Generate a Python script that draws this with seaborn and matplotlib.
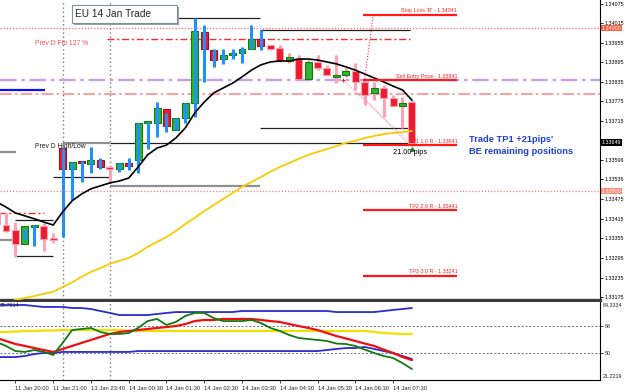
import numpy as np
import seaborn as sns
import matplotlib.pyplot as plt
from matplotlib.patches import Rectangle

# ---------------------------------------------------------------
# EURUSD M15 bars (bar index -1 .. 43), prices
# ---------------------------------------------------------------
bars = list(range(-1, 44))

body_open = [1.33433, 1.33396, 1.33381, 1.33338, 1.33390, 1.33393, 1.33356,
             1.33632, 1.33568, 1.33592, 1.33583, 1.33595, 1.33574, 1.33568, 1.33586, 1.33595,
             1.33709, 1.33709, 1.33752, 1.33687, 1.33724, 1.33770, 1.33988,
             1.33933, 1.33905, 1.33917, 1.33924, 1.33936, 1.33966, 1.33948,
             1.33939, 1.33899, 1.33908, 1.33844, 1.33896, 1.33878, 1.33850, 1.33856,
             1.33868, 1.33835, 1.33801, 1.33816, 1.33786, 1.33761, 1.33773]
body_close = [1.33399, 1.33378, 1.33338, 1.33393, 1.33393, 1.33353, 1.33350,
              1.33568, 1.33589, 1.33586, 1.33595, 1.33574, 1.33568, 1.33586, 1.33577, 1.33709,
              1.33712, 1.33755, 1.33700, 1.33724, 1.33770, 1.33991, 1.33936,
              1.33902, 1.33917, 1.33924, 1.33936, 1.33966, 1.33945, 1.33936,
              1.33899, 1.33911, 1.33844, 1.33896, 1.33878, 1.33856, 1.33856, 1.33868,
              1.33835, 1.33795, 1.33816, 1.33786, 1.33761, 1.33770, 1.33648]
bar_high = [1.33442, 1.33433, 1.33405, 1.33384, 1.33396, 1.33402, 1.33372,
            1.33632, 1.33589, 1.33592, 1.33635, 1.33602, 1.33577, 1.33586, 1.33602, 1.33709,
            1.33712, 1.33773, 1.33740, 1.33724, 1.33770, 1.34031, 1.34009,
            1.33936, 1.33936, 1.33936, 1.33942, 1.34009, 1.33994, 1.33948,
            1.33948, 1.33924, 1.33917, 1.33902, 1.33917, 1.33887, 1.33917, 1.33878,
            1.33893, 1.33841, 1.33835, 1.33825, 1.33795, 1.33789, 1.33779]
bar_low = [1.33393, 1.33375, 1.33298, 1.33350, 1.33332, 1.33316, 1.33341,
           1.33359, 1.33473, 1.33528, 1.33556, 1.33568, 1.33525, 1.33559, 1.33565, 1.33556,
           1.33629, 1.33666, 1.33681, 1.33687, 1.33709, 1.33727, 1.33835,
           1.33881, 1.33890, 1.33905, 1.33893, 1.33936, 1.33933, 1.33933,
           1.33896, 1.33893, 1.33841, 1.33841, 1.33871, 1.33853, 1.33831, 1.33850,
           1.33810, 1.33764, 1.33779, 1.33727, 1.33761, 1.33694, 1.33638]
bar_trend = ['dn', 'dn', 'dn', 'up', 'up', 'dn', 'dn',
             'up', 'up', 'up', 'up', 'up', 'dn', 'up', 'up', 'up',
             'up', 'up', 'up', 'up', 'up', 'up', 'up',
             'up', 'up', 'up', 'up', 'up', 'up', 'dn',
             'dn', 'dn', 'dn', 'dn', 'dn', 'dn', 'dn', 'dn',
             'dn', 'dn', 'dn', 'dn', 'dn', 'dn', 'dn']

ma_fast = [1.33467, 1.33451, 1.33433, 1.33424, 1.33415, 1.33405, 1.33396,
           1.33436, 1.33470, 1.33491, 1.33507, 1.33516, 1.33525, 1.33531, 1.33540, 1.33574,
           1.33611, 1.33632, 1.33641, 1.33663, 1.33694, 1.33740, 1.33773,
           1.33801, 1.33816, 1.33831, 1.33850, 1.33871, 1.33887, 1.33896,
           1.33899, 1.33899, 1.33905, 1.33905, 1.33902, 1.33896, 1.33890, 1.33881,
           1.33871, 1.33859, 1.33847, 1.33835, 1.33822, 1.33810, 1.33779]
ma_slow = [1.33151, 1.33157, 1.33166, 1.33172, 1.33178, 1.33185, 1.33191,
           1.33206, 1.33220, 1.33237, 1.33252, 1.33264, 1.33277, 1.33286, 1.33295, 1.33310,
           1.33329, 1.33344, 1.33359, 1.33378, 1.33399, 1.33418, 1.33439,
           1.33457, 1.33476, 1.33494, 1.33513, 1.33528, 1.33543, 1.33559,
           1.33574, 1.33586, 1.33599, 1.33611, 1.33620, 1.33629, 1.33638, 1.33648,
           1.33654, 1.33663, 1.33669, 1.33675, 1.33678, 1.33681, 1.33684]

# lower indicator window
ind_green = [57.3, 54.7, 51.3, 50.7, 52.0, 50.7, 48.7,
             56.7, 65.3, 66.0, 66.7, 64.0, 62.7, 62.7, 63.3, 66.7,
             71.3, 72.7, 68.7, 70.7, 74.7, 76.7, 76.7,
             73.3, 71.3, 71.3, 71.3, 72.0, 70.0, 66.7,
             64.7, 62.0, 60.0, 59.3, 58.7, 58.0, 56.3, 56.0,
             54.7, 52.3, 50.0, 48.0, 46.7, 43.3, 39.3]
ind_red = [60.0, 58.0, 56.0, 54.7, 53.3, 52.0, 50.7,
           52.7, 54.7, 56.7, 58.7, 60.7, 62.7, 64.0, 64.7, 65.3,
           66.0, 66.7, 67.3, 68.0, 69.3, 71.3, 72.0,
           72.0, 72.7, 72.7, 72.7, 72.7, 72.0, 71.3,
           70.7, 69.3, 68.0, 66.7, 65.3, 63.3, 61.3, 59.7,
           58.0, 56.3, 54.7, 52.3, 50.0, 47.3, 45.3]
ind_yellow = [64.0, 64.0, 64.3, 64.7, 64.7, 65.0, 65.0,
              65.3, 65.3, 65.3, 65.3, 65.3, 65.3, 65.3, 64.7, 64.7,
              64.7, 64.7, 64.7, 64.7, 64.7, 64.7, 64.7,
              64.7, 64.7, 64.7, 64.7, 64.7, 64.7, 64.7,
              64.7, 64.7, 64.7, 64.7, 64.7, 64.7, 64.7, 64.7,
              64.7, 64.7, 64.0, 63.3, 63.0, 62.7, 62.7]
ind_upper = [82.0, 82.0, 82.0, 82.0, 81.3, 80.7, 80.7,
             80.7, 80.0, 80.0, 79.3, 78.0, 76.7, 75.3, 75.3, 75.3,
             75.3, 76.0, 76.7, 77.3, 77.3, 77.3, 77.3,
             77.3, 77.3, 77.3, 78.0, 78.0, 78.0, 78.0,
             78.0, 78.0, 78.0, 78.0, 78.0, 78.0, 77.3, 77.3,
             77.3, 77.3, 77.3, 78.0, 78.7, 79.3, 80.0]
ind_lower = [47.3, 47.3, 47.3, 48.0, 49.3, 50.0, 50.0,
             50.7, 50.7, 50.7, 50.7, 50.7, 50.7, 50.7, 50.7, 51.3,
             51.3, 51.3, 51.3, 51.3, 51.3, 51.3, 51.3,
             51.3, 51.3, 51.3, 51.3, 51.3, 51.3, 51.3,
             51.3, 51.3, 51.3, 51.3, 51.3, 52.0, 52.7, 53.3,
             53.3, 54.0, 52.7, 51.3, 50.0, 48.0, 46.0]

# horizontal levels
full_levels = [(1.34000, '#ff6a6a', (0, (1, 1.5)), 0.9),
               (1.33841, '#c59ef2', (0, (7, 2, 1.5, 2)), 1.7),
               (1.33798, '#ff8c8c', (0, (7, 2, 1.5, 2)), 1.2),
               (1.33500, '#ff7a7a', (0, (1, 1.5)), 0.9)]
short_levels = [(1.34031, 18.2, 26.9, '#202020', '-', 0.9),
                (1.33994, 26.9, 42.8, '#202020', '-', 0.9),
                (1.33694, 26.9, 42.8, '#202020', '-', 0.9),
                (1.33648, 11.0, 42.8, '#202020', '-', 0.9),
                (1.33648, 6.0, 11.0, '#909090', '-', 1.6),
                (1.33543, 5.0, 11.0, '#202020', '-', 0.9),
                (1.33516, 11.0, 26.9, '#909090', '-', 1.6),
                (1.33620, -0.7, 1.1, '#909090', '-', 1.6),
                (1.33411, 0.95, 5.0, '#202020', '-', 0.9),
                (1.33301, 0.95, 5.0, '#202020', '-', 0.9),
                (1.33350, -0.7, 0.75, '#909090', '-', 1.6),
                (1.33433, -0.7, 4.0, '#ff2a2a', (0, (5, 2, 1.5, 2)), 1.0),
                (1.33966, 10.7, 42.8, '#ff2a2a', (0, (5, 2, 1.5, 2)), 1.0),
                (1.33810, -0.7, 4.1, '#1010ee', '-', 1.6)]

trade_prices = [1.34041, 1.33841, 1.33641, 1.33441, 1.33241]
trade_labels = ["Stop Loss 'R' - 1.34041", "Sell Entry Price - 1.33841",
                "TP1 1.0 R - 1.33641", "TP2 2.0 R - 1.33441", "TP3 3.0 R - 1.33241"]

price_ticks = [1.34075, 1.34015, 1.33955, 1.33895, 1.33835, 1.33775, 1.33715,
               1.33596, 1.33536, 1.33475, 1.33415, 1.33355, 1.33295, 1.33235, 1.33175]
time_ticks = [1, 5, 9, 13, 17, 21, 25, 29, 33, 37, 41]
time_labels = ['11 Jan 20:00', '11 Jan 21:00', '13 Jan 23:40', '14 Jan 00:30',
               '14 Jan 01:30', '14 Jan 02:30', '14 Jan 03:30', '14 Jan 04:30',
               '14 Jan 05:30', '14 Jan 06:30', '14 Jan 07:30']
day_breaks = [6.0, 11.0]

# ---------------------------------------------------------------
sns.set_style("white")
plt.rcParams['font.family'] = ['Liberation Sans', 'DejaVu Sans']

W, H = 625, 392
fig = plt.figure(figsize=(W / 100, H / 100), dpi=100)


def box(x0, y0, x1, y1):
    return [x0 / W, 1 - y1 / H, (x1 - x0) / W, (y1 - y0) / H]


ax = fig.add_axes(box(0, 0, 600, 300))
ax2 = fig.add_axes(box(0, 302, 600, 380))
xlim = (-6 / 9.44, 594 / 9.44)
for a in (ax, ax2):
    a.set_xlim(*xlim)
    a.set_facecolor('white')
    for s in ('left', 'top'):
        a.spines[s].set_visible(False)
    a.spines['right'].set_color('black')
    a.spines['right'].set_linewidth(0.8)
ax.set_ylim(1.33166, 1.34086)
ax.spines['bottom'].set_color('#3c3c3c')
ax.spines['bottom'].set_linewidth(2.4)
ax2.spines['bottom'].set_color('black')
ax2.spines['bottom'].set_linewidth(0.8)
ax2.set_ylim(32, 84)

# period separators
for d in day_breaks:
    for a in (ax, ax2):
        a.axvline(d, color='#7a7a7a', lw=1.0, ls=(0, (1, 2)), zorder=1)

# levels
for p, col, ls, lw in full_levels:
    ax.axhline(p, color=col, ls=ls, lw=lw, zorder=1)
for p, x0, x1, col, ls, lw in short_levels:
    ax.hlines(p, x0, x1, colors=col, linestyles=ls, lw=lw, zorder=1)

# candles
for i, o, c, h, l, t in zip(bars, body_open, body_close, bar_high, bar_low, bar_trend):
    up = t == 'up'
    ax.vlines(i, l, h, color='#1e90ff' if up else '#ffa3b4', lw=2.2, zorder=4 if up else 2)
    lo, hi = min(o, c), max(o, c)
    hi = max(hi, lo + 0.00006)
    if c >= o:
        fc, ec = '#2fb52f', '#137a13'
    else:
        fc, ec = '#ec1b30', ('#a50f1c' if up else '#ff9fb0')
    ax.add_patch(Rectangle((i - 0.37, lo), 0.74, hi - lo, fc=fc, ec=ec, lw=0.8, zorder=3))

# moving averages
sns.lineplot(x=bars, y=ma_slow, ax=ax, color='#f7cc00', lw=1.3, zorder=5)
sns.lineplot(x=bars, y=ma_fast, ax=ax, color='black', lw=1.2, zorder=5)

# trade lines
for p, lab in zip(trade_prices, trade_labels):
    ax.hlines(p, 37.8, 47.8, colors='#ff1a1a', lw=1.6, zorder=6)
    ax.text(47.8, p + 0.00004, lab, color='#ff2020', fontsize=3.9, ha='right', va='bottom', zorder=7)
ax.plot([37.8, 38.9], [1.33801, 1.34041], color='#ff3030', lw=0.8, ls=(0, (1, 1.5)), zorder=6)
ax.plot([35.7, 42.8], [1.33841, 1.33648], color='#ff90b0', lw=0.8, ls=(0, (1, 1.5)), zorder=6)
ax.plot([37.8, 42.5], [1.33789, 1.33648], color='#ff90b0', lw=0.8, ls=(0, (1, 1.5)), zorder=6)
ax.plot([35.7], [1.33841], marker='+', color='#ff2020', ms=3, mew=0.8, zorder=7)
ax.plot([43.0], [1.33630], marker='^', color='#1a8a1a', ms=2.5, zorder=7)

ax.text(3.07, 1.33954, 'Prev D Fib 127 %', color='#ff4d4d', fontsize=4.9, va='center', ha='left')
ax.text(3.07, 1.33636, 'Prev D High/Low', color='#202020', fontsize=4.9, va='center', ha='left')
ax.text(41.0, 1.33617, '21.00 pips', color='black', fontsize=5.3, va='center', ha='left', zorder=7)
ax.text(49.05, 1.33657, "Trade TP1 +21pips'", color='#1f3fe0', fontsize=6.7,
        fontweight='bold', va='center', ha='left')
ax.text(49.05, 1.33622, 'BE remaining positions', color='#1f3fe0', fontsize=6.7,
        fontweight='bold', va='center', ha='left')

# title box
ax.add_patch(Rectangle((74 / 600, 1 - 25 / 300), 105 / 600, 18 / 300, transform=ax.transAxes,
                       fc='#a0a0a0', ec='none', zorder=8))
ax.add_patch(Rectangle((72 / 600, 1 - 23 / 300), 105 / 600, 18 / 300, transform=ax.transAxes,
                       fc='white', ec='#8090a0', lw=0.8, zorder=9))
ax.text(75 / 600, 1 - 14 / 300, 'EU 14 Jan Trade', transform=ax.transAxes, fontsize=7.3,
        va='center', ha='left', zorder=10)

# price axis
FS = 3.9
ax.set_xticks([])
ax.set_yticks(price_ticks)
ax.set_yticklabels([f'{p:.5f}' for p in price_ticks])
ax.tick_params(axis='y', left=False, labelleft=False, right=True, labelright=True,
               length=2.5, width=0.6, labelsize=FS, pad=0.8, colors='black')
yt = ax.get_yaxis_transform()
for p, txt, bg in [(1.34000, '1.34000', '#ff5a3c'), (1.33649, '1.33649', 'black'),
                   (1.33500, '1.33500', '#ff8c74')]:
    ax.text(1.0025, p, txt, transform=yt, color='white', fontsize=FS, va='center', ha='left',
            bbox=dict(boxstyle='square,pad=0.15', fc=bg, ec='none'), clip_on=False)

# indicator window
sns.lineplot(x=bars, y=ind_upper, ax=ax2, color='#2b2bd0', lw=1.3)
sns.lineplot(x=bars, y=ind_lower, ax=ax2, color='#2b2bd0', lw=1.3)
sns.lineplot(x=bars, y=ind_yellow, ax=ax2, color='#f0e000', lw=1.6)
sns.lineplot(x=bars, y=ind_red, ax=ax2, color='#ee1010', lw=1.6)
sns.lineplot(x=bars, y=ind_green, ax=ax2, color='#127a12', lw=1.3)
for lvl in (68, 50):
    ax2.axhline(lvl, color='#707070', lw=0.7, ls=(0, (2, 2)), zorder=0)
ax2.set_yticks([68, 50])
ax2.set_yticklabels(['68', '50'])
ax2.tick_params(axis='y', left=False, labelleft=False, right=True, labelright=True,
                length=2.5, width=0.6, labelsize=FS, pad=0.8)
ax2.text(1.004, 0.955, '84.3334', transform=ax2.transAxes, fontsize=FS, va='center', ha='left')
ax2.text(1.004, 0.04, '21.2219', transform=ax2.transAxes, fontsize=FS, va='center', ha='left')
ax2.text(0.0, 0.96, '35.7614', transform=ax2.transAxes, fontsize=FS, va='center', ha='left')

ax2.set_xticks(time_ticks)
ax2.set_xticklabels(time_labels)
ax2.tick_params(axis='x', bottom=True, length=2.5, width=0.6, labelsize=4.2, pad=1.5)
for lbl in ax2.get_xticklabels():
    lbl.set_ha('left')
for a in (ax, ax2):
    a.set_xlabel('')
    a.set_ylabel('')

fig.savefig('out.png', dpi=100)
